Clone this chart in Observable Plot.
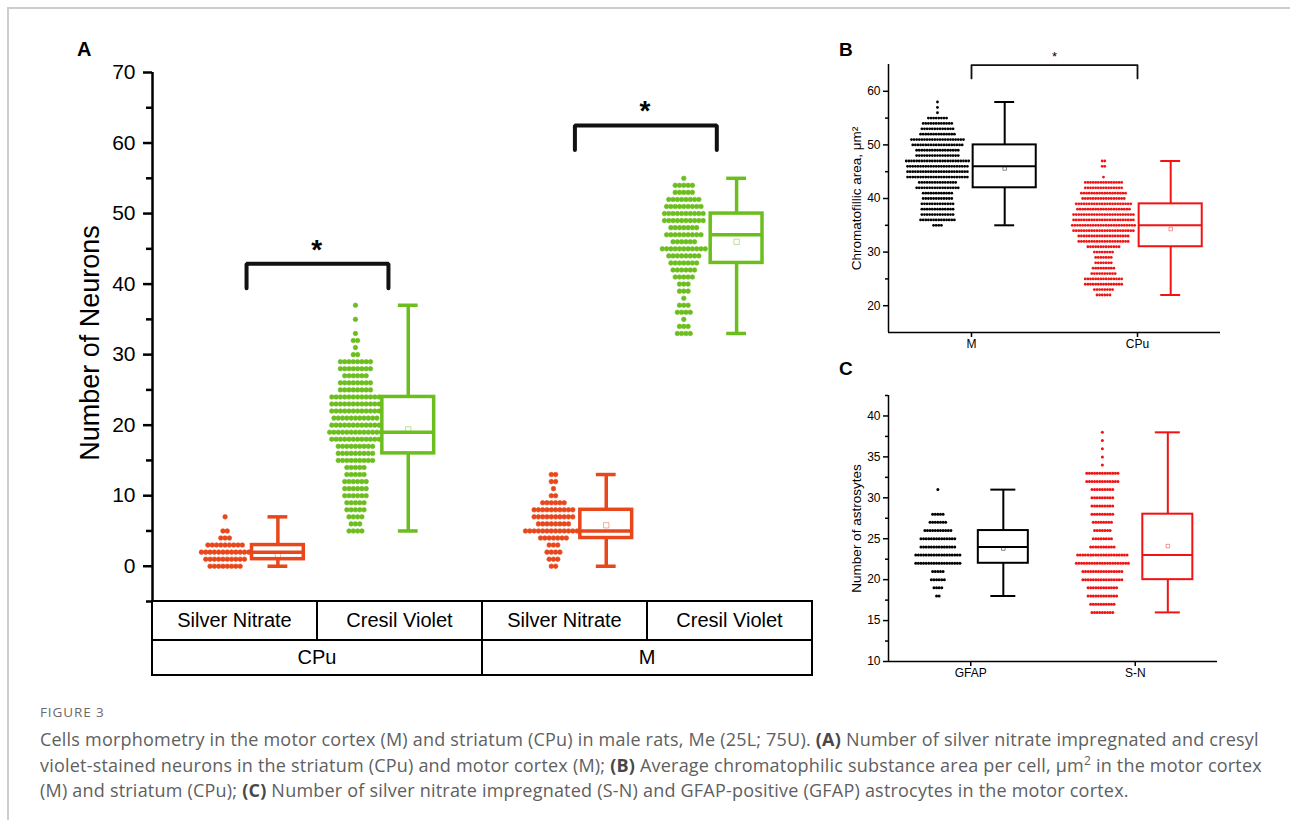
<!DOCTYPE html>
<html><head><meta charset="utf-8">
<script src="https://cdn.jsdelivr.net/npm/d3@7"></script>
<script src="https://cdn.jsdelivr.net/npm/@observablehq/plot@0.6"></script>
<style>
body{margin:0;background:#fff;}
#page{position:relative;width:1290px;height:820px;overflow:hidden;background:#fff;font-family:"Liberation Sans",Arial,sans-serif;}
.frame{position:absolute;left:7px;top:7px;width:1300px;height:830px;border-top:2px solid #cdcdcd;border-left:2px solid #cdcdcd;}
.panel{position:absolute;}
.plabel{position:absolute;font-weight:bold;font-family:"Liberation Sans",Arial,sans-serif;color:#000;line-height:1;}
table.cats{position:absolute;left:151px;top:600px;width:662px;border-collapse:collapse;font-size:20px;font-family:"Liberation Sans",Arial,sans-serif;table-layout:fixed;}
table.cats td{border:2px solid #000;text-align:center;padding:0;white-space:nowrap;}
.fig{position:absolute;left:40px;top:703px;font-family:"Open Sans",sans-serif;font-size:13.5px;color:#6a6a6a;letter-spacing:0.9px;}
.cap{position:absolute;left:40px;top:727px;font-family:"Open Sans",sans-serif;font-size:18px;letter-spacing:0.21px;line-height:25.5px;color:#606060;white-space:nowrap;}
.cap b{color:#484848;}
</style></head>
<body><div id="page">
<div class="frame"></div>
<div class="plabel" style="left:77px;top:39px;font-size:20px;">A</div>
<div class="plabel" style="left:839px;top:40px;font-size:19px;">B</div>
<div class="plabel" style="left:839px;top:359px;font-size:19px;">C</div>
<div id="pa" class="panel" style="left:0;top:0;"></div>
<div id="pb" class="panel" style="left:830px;top:30px;"></div>
<div id="pc" class="panel" style="left:830px;top:370px;"></div>
<table class="cats" id="cats"></table>
<div class="fig">FIGURE 3</div>
<div class="cap">Cells morphometry in the motor cortex (M) and striatum (CPu) in male rats, Me (25L; 75U). <b>(A)</b> Number of silver nitrate impregnated and cresyl<br>violet-stained neurons in the striatum (CPu) and motor cortex (M); <b>(B)</b> Average chromatophilic substance area per cell, µm<sup style="font-size:12px;line-height:0">2</sup> in the motor cortex<br>(M) and striatum (CPu); <b>(C)</b> Number of silver nitrate impregnated (S-N) and GFAP-positive (GFAP) astrocytes in the motor cortex.</div>
</div>
<script>
// ---------- Panel A data ----------
const stainsA = ["Silver Nitrate", "Cresil Violet", "Silver Nitrate", "Cresil Violet"];
const regionsA = ["CPu", "M"];
const colorsA = ["#e8471b", "#6bbe1e", "#e8471b", "#6bbe1e"];
const minA = [0, 5, 0, 33];
const q1A = [1, 16, 4, 43];
const medA = [2, 19, 5, 47];
const q3A = [3, 24, 8, 50];
const maxA = [7, 37, 13, 55];
const meanA = [1.6, 19.4, 5.8, 46];
const startA = [0, 5, 0, 33];
const countsCPuSN = [8, 10, 12, 9, 3, 2, 0, 1];
const countsCPuCV = [4, 3, 4, 5, 5, 6, 6, 6, 5, 5, 9, 9, 9, 12, 13, 12, 11, 12, 12, 12, 8, 8, 6, 8, 8, 2, 1, 2, 1, 0, 1, 0, 1];
const countsMSN = [2, 3, 4, 3, 7, 14, 8, 10, 10, 6, 2, 1, 2, 2];
const countsMCV = [4, 3, 1, 4, 3, 1, 3, 3, 5, 6, 7, 8, 11, 6, 9, 7, 10, 10, 9, 8, 5, 5, 1];
const countsA = [countsCPuSN, countsCPuCV, countsMSN, countsMCV];
const sigPairsA = [[0, 1], [2, 3]];
const sigLegA = [39.4, 59];
const sigTopA = [42.9, 62.5];
const ticksMajorA = [0, 10, 20, 30, 40, 50, 60, 70];
const ticksMinorA = [-5, 5, 15, 25, 35, 45, 55, 65];

// ---------- Panel B data ----------
const groupsB = ["M", "CPu"];
const colorsB = ["#000000", "#f21212"];
const minB = [35, 22];
const q1B = [42, 31];
const medB = [46, 35];
const q3B = [50, 39];
const maxB = [58, 47];
const meanB = [45.6, 34.3];
const startB = [35, 22];
const countsBM = [4, 14, 13, 13, 13, 12, 12, 17, 15, 24, 24, 24, 25, 17, 17, 20, 21, 14, 13, 12, 8, 1, 1, 1];
const countsBCPu = [6, 8, 15, 15, 10, 9, 7, 7, 8, 13, 20, 20, 24, 25, 24, 24, 21, 22, 17, 18, 15, 15, 1, 0, 2, 2];
const countsB = [countsBM, countsBCPu];
const sigLegB = 62.4, sigTopB = 64.9;
const ticksMajorB = [20, 30, 40, 50, 60];
const ticksMinorB = [25, 35, 45, 55];

// ---------- Panel C data ----------
const groupsC = ["GFAP", "S-N"];
const colorsC = ["#000000", "#f21212"];
const minC = [18, 16];
const q1C = [22, 20];
const medC = [24, 23];
const q3C = [26, 28];
const maxC = [31, 38];
const meanC = [23.8, 24.1];
const startC = [18, 16];
const countsCGFAP = [2, 4, 6, 5, 18, 18, 14, 14, 11, 7, 5, 0, 0, 1];
const countsCSN = [9, 10, 12, 12, 16, 16, 21, 20, 10, 8, 7, 8, 9, 9, 9, 9, 13, 13, 1, 1, 1, 1, 1];
const countsC = [countsCGFAP, countsCSN];
const ticksMajorC = [10, 15, 20, 25, 30, 35, 40];
const ticksMinorC = [12.5, 17.5, 22.5, 27.5, 32.5, 37.5, 42.5];

// ---------- helpers ----------
function swarmDots(start, counts, pos, step, color) {
  const out = [];
  counts.forEach((n, i) => {
    for (let k = 0; k < n; k++) out.push({x: pos + (k - (n - 1) / 2) * step, y: start + i, color});
  });
  return out;
}
function boxMarks(boxes, half, cap, sw, meanR) {
  return [
    Plot.ruleX(boxes, {x: "pos", y1: "min", y2: "q1", stroke: "color", strokeWidth: sw}),
    Plot.ruleX(boxes, {x: "pos", y1: "q3", y2: "max", stroke: "color", strokeWidth: sw}),
    Plot.ruleY(boxes, {y: "min", x1: d => d.pos - cap, x2: d => d.pos + cap, stroke: "color", strokeWidth: sw}),
    Plot.ruleY(boxes, {y: "max", x1: d => d.pos - cap, x2: d => d.pos + cap, stroke: "color", strokeWidth: sw}),
    Plot.rect(boxes, {x1: d => d.pos - half, x2: d => d.pos + half, y1: "q1", y2: "q3", stroke: "color", fill: "white", strokeWidth: sw, inset: 0}),
    Plot.ruleY(boxes, {y: "med", x1: d => d.pos - half, x2: d => d.pos + half, stroke: "color", strokeWidth: sw}),
    Plot.dot(boxes, {x: "pos", y: "mean", symbol: "square", r: meanR, stroke: "color", strokeOpacity: 0.45, strokeWidth: 1, fill: "none"})
  ];
}
const baseStyle = {fontFamily: "Liberation Sans, Arial, sans-serif", color: "#000", background: "transparent", overflow: "visible"};

// ---------- Panel A ----------
{
  const W = 830, H = 605, mL = 152, mR = 18, mT = 72, mB = 4;
  const centers = [0.6, 1.39, 2.59, 3.38];
  const unitsPerPx = 4 / (W - mL - mR);
  const boxes = stainsA.map((s, i) => ({pos: centers[i] + 0.16, min: minA[i], q1: q1A[i], med: medA[i], q3: q3A[i], max: maxA[i], mean: meanA[i], color: colorsA[i]}));
  const dots = countsA.flatMap((c, i) => swarmDots(startA[i], c, centers[i] - 0.16, 4.3 * unitsPerPx, colorsA[i]));
  const br = sigPairsA.flatMap(([a, b], j) => {
    const x1 = centers[a] - 0.03, x2 = centers[b] + 0.04;
    return [{id: j, x: x1, y: sigLegA[j]}, {id: j, x: x1, y: sigTopA[j]}, {id: j, x: x2, y: sigTopA[j]}, {id: j, x: x2, y: sigLegA[j]}];
  });
  const stars = sigPairsA.map(([a, b], j) => ({x: (centers[a] + centers[b]) / 2, y: sigTopA[j]}));
  const p = Plot.plot({
    width: W, height: H, marginLeft: mL, marginRight: mR, marginTop: mT, marginBottom: mB,
    style: {...baseStyle, fontSize: "20px"},
    x: {domain: [0, 4], axis: null},
    y: {domain: [-5, 70], label: null},
    marks: [
      Plot.axisY({ticks: ticksMajorA, tickSize: 9, tickPadding: 8, fontSize: 21, strokeWidth: 2.5, label: null}),
      Plot.axisY({ticks: ticksMinorA, tickSize: 6, tickFormat: () => "", strokeWidth: 2.5, label: null}),
      Plot.ruleX([0], {y1: -5, y2: 70, strokeWidth: 2.5}),
      Plot.text(["Number of Neurons"], {frameAnchor: "left", textAnchor: "middle", rotate: -90, dx: -62, dy: 6, fontSize: 27}),
      Plot.dot(dots, {x: "x", y: "y", r: 2.3, fill: "color", stroke: "color", strokeWidth: 0.6}),
      ...boxMarks(boxes, 0.157, 0.06, 3.5, 3),
      Plot.line(br, {x: "x", y: "y", z: "id", stroke: "#111", strokeWidth: 4, strokeLinecap: "round", strokeLinejoin: "miter", curve: "linear"}),
      Plot.text(stars, {x: "x", y: "y", text: () => "*", dy: -14, fontSize: 28, fontWeight: "bold"})
    ]
  });
  document.getElementById("pa").appendChild(p);
  const t = document.getElementById("cats");
  t.innerHTML = `<tr style="height:39px">${stainsA.map(s => `<td>${s}</td>`).join("")}</tr>` +
    `<tr style="height:35px">${regionsA.map(r => `<td colspan="2">${r}</td>`).join("")}</tr>`;
}

// ---------- Panel B ----------
{
  const W = 400, H = 330, mL = 58, mR = 10, mT = 34, mB = 28;
  const centers = [0.5, 1.5];
  const unitsPerPx = 2 / (W - mL - mR);
  const boxes = groupsB.map((g, i) => ({pos: centers[i] + 0.2, min: minB[i], q1: q1B[i], med: medB[i], q3: q3B[i], max: maxB[i], mean: meanB[i], color: colorsB[i]}));
  const dots = countsB.flatMap((c, i) => swarmDots(startB[i], c, centers[i] - 0.205, 2.6 * unitsPerPx, colorsB[i]));
  const br = [{x: centers[0], y: sigLegB}, {x: centers[0], y: sigTopB}, {x: centers[1], y: sigTopB}, {x: centers[1], y: sigLegB}];
  const p = Plot.plot({
    width: W, height: H, marginLeft: mL, marginRight: mR, marginTop: mT, marginBottom: mB,
    style: {...baseStyle, fontSize: "12px"},
    x: {domain: [0, 2], label: null},
    y: {domain: [15, 65], label: null},
    marks: [
      Plot.axisY({ticks: ticksMajorB, tickSize: 5, tickPadding: 3, fontSize: 12, strokeWidth: 1.5, label: null}),
      Plot.axisY({ticks: ticksMinorB, tickSize: 3, tickFormat: () => "", strokeWidth: 1.5, label: null}),
      Plot.axisX({ticks: centers, tickFormat: (d, i) => groupsB[i], tickSize: 5, tickPadding: 2, fontSize: 12, strokeWidth: 1.5, label: null}),
      Plot.ruleX([0], {y1: 15, y2: 65, strokeWidth: 1.5}),
      Plot.ruleY([15], {x1: 0, x2: 2, strokeWidth: 1.5}),
      Plot.text(["Chromatofillic area, μm²"], {frameAnchor: "left", textAnchor: "middle", rotate: -90, dx: -32, fontSize: 13.5}),
      Plot.dot(dots, {x: "x", y: "y", r: 1.4, fill: "color", stroke: "none"}),
      ...boxMarks(boxes, 0.19, 0.06, 2, 2),
      Plot.line(br, {x: "x", y: "y", stroke: "#111", strokeWidth: 1.8}),
      Plot.text([{x: 1, y: sigTopB}], {x: "x", y: "y", text: () => "*", dy: -8, fontSize: 13})
    ]
  });
  document.getElementById("pb").appendChild(p);
}

// ---------- Panel C ----------
{
  const W = 400, H = 320, mL = 58, mR = 13, mT = 25, mB = 29;
  const centers = [0.5, 1.5];
  const unitsPerPx = 2 / (W - mL - mR);
  const boxes = groupsC.map((g, i) => ({pos: centers[i] + 0.198, min: minC[i], q1: q1C[i], med: medC[i], q3: q3C[i], max: maxC[i], mean: meanC[i], color: colorsC[i]}));
  const dots = countsC.flatMap((c, i) => swarmDots(startC[i], c, centers[i] - 0.2, 2.6 * unitsPerPx, colorsC[i]));
  const p = Plot.plot({
    width: W, height: H, marginLeft: mL, marginRight: mR, marginTop: mT, marginBottom: mB,
    style: {...baseStyle, fontSize: "12px"},
    x: {domain: [0, 2], label: null},
    y: {domain: [10, 42.5], label: null},
    marks: [
      Plot.axisY({ticks: ticksMajorC, tickSize: 5, tickPadding: 3, fontSize: 12, strokeWidth: 1.5, label: null}),
      Plot.axisY({ticks: ticksMinorC, tickSize: 3, tickFormat: () => "", strokeWidth: 1.5, label: null}),
      Plot.axisX({ticks: centers, tickFormat: (d, i) => groupsC[i], tickSize: 5, tickPadding: 2, fontSize: 12, strokeWidth: 1.5, label: null}),
      Plot.ruleX([0], {y1: 10, y2: 42.5, strokeWidth: 1.5}),
      Plot.ruleY([10], {x1: 0, x2: 2, strokeWidth: 1.5}),
      Plot.text(["Number of astrosytes"], {frameAnchor: "left", textAnchor: "middle", rotate: -90, dx: -32, fontSize: 13.5}),
      Plot.dot(dots, {x: "x", y: "y", r: 1.5, fill: "color", stroke: "none"}),
      ...boxMarks(boxes, 0.152, 0.076, 2, 2)
    ]
  });
  document.getElementById("pc").appendChild(p);
}
</script>
</body></html>
